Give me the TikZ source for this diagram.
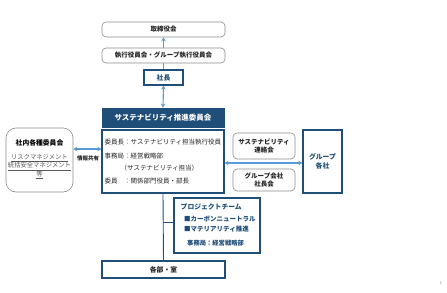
\documentclass[tikz,border=0pt]{standalone}
\usepackage{fontspec}
\setmainfont{Noto Sans CJK JP}
\usetikzlibrary{arrows.meta}
\definecolor{navy}{HTML}{1F4E79}
\definecolor{lblue}{HTML}{5B9BD5}
\definecolor{rgray}{HTML}{8C8C8C}
\definecolor{tgray}{HTML}{595959}
\definecolor{txt}{HTML}{262626}
\tikzset{
  fs/.style={font=\fontsize{6.5}{8}\selectfont},
  rbox/.style={draw=rgray, line width=0.6pt, rounded corners=4pt, fill=white, font=\fontsize{6.5}{8}\selectfont\bfseries, text=txt, align=center, inner sep=0pt},
  nbox/.style={draw=navy, line width=1.2pt, fill=white, fs, text=txt, align=center, inner sep=0pt},
  larr/.style={draw=lblue, line width=1.1pt, -{Stealth[length=4pt,width=4.5pt]}},
  darr/.style={draw=lblue, line width=1.1pt, {Stealth[length=4pt,width=4.5pt]}-{Stealth[length=4pt,width=4.5pt]}},
  nline/.style={draw=navy, line width=0.9pt},
  lt/.style={fs, text=txt, anchor=west, inner sep=0pt}
}
\begin{document}
\begin{tikzpicture}[x=1pt,y=-1pt]
\useasboundingbox (0,0) rectangle (447,292);
% top chain
\node[rbox, minimum width=123pt, minimum height=15pt] (board) at (163.5,29.5) {取締役会};
\node[rbox, minimum width=123pt, minimum height=15pt] (exec) at (163.5,55.5) {執行役員会・グループ執行役員会};
\node[nbox, minimum width=39pt, minimum height=15pt, font=\fontsize{6.8}{8}\selectfont\bfseries, text=navy] (pres) at (163.5,77.5) {社長};
% committee
\node[draw=navy, fill=navy, line width=0.8pt, minimum width=122pt, minimum height=19pt, inner sep=0pt, text=white, font=\fontsize{7.5}{9}\selectfont\bfseries] (head) at (163,117.5) {サステナビリティ推進委員会};
\node[nbox, minimum width=122pt, minimum height=63pt] (body) at (163,161.5) {};
\node[lt] (l1) at (104.5,142) {委員長：サステナビリティ担当執行役員};
\node[lt] (l2) at (104.5,156.5) {事務局：経営戦略部};
\node[lt] (l3) at (120.5,168) {（サステナビリティ担当）};
\node[lt] (l4) at (104.5,181) {委員　：関係部門役員・部長};
% left
\node[rbox, rounded corners=10pt, minimum width=67pt, minimum height=64pt] (inhouse) at (39.5,160) {};
\node[font=\fontsize{6.8}{8}\selectfont\bfseries, text=black, inner sep=0pt] (ihtitle) at (39.5,143) {社内各種委員会};
\node[font=\fontsize{6.3}{8.3}\selectfont, text=tgray, align=center, inner sep=0pt] (ihsub) at (39.5,166.5) {\underline{リスクマネジメント}\\\underline{統括安全マネジメント}\\\underline{等}};
\draw[darr] (inhouse.east |- 0,149) -- (body.west |- 0,149);
\node[font=\fontsize{5.5}{6}\selectfont\bfseries, text=txt, inner sep=0pt] (share) at (88,158.5) {情報共有};
% right
\node[rbox, minimum width=62pt, minimum height=26pt] (liaison) at (264,146) {サステナビリティ\\連絡会};
\node[rbox, minimum width=62pt, minimum height=22pt] (ceo) at (264,180) {グループ会社\\社長会};
\node[nbox, minimum width=39pt, minimum height=63pt, font=\fontsize{6.8}{9}\selectfont\bfseries, text=navy] (group) at (322.5,161.5) {グループ\\各社};
\draw[darr] (body.east |- 0,163) -- (group.west |- 0,163);
% project team
\node[nbox, minimum width=86pt, minimum height=55pt] (pt) at (217,225.5) {};
\node[lt, font=\fontsize{6.8}{8}\selectfont\bfseries, text=navy] (p1) at (180.5,207) {プロジェクトチーム};
\node[lt, font=\fontsize{6.5}{8}\selectfont\bfseries, text=navy] (p2) at (184,219) {■カーボンニュートラル};
\node[lt, font=\fontsize{6.5}{8}\selectfont\bfseries, text=navy] (p3) at (184,229.5) {■マテリアリティ推進};
\node[lt, font=\fontsize{6.3}{8}\selectfont\bfseries, text=navy] (p4) at (187,243) {事務局：経営戦略部};
% departments
\node[nbox, minimum width=123pt, minimum height=17pt, font=\fontsize{6.8}{8}\selectfont\bfseries] (dept) at (163.5,269.5) {各部・室};
% connectors
\draw[larr] (exec.north) -- (board.south);
\draw[draw=lblue, line width=1.1pt] (pres.north) -- (exec.south);
\draw[darr] (pres.south) -- (head.north);
\draw[nline] (body.south) -- (dept.north);
\coordinate (br) at (163,222);
\draw[nline] (br) -- (pt.west |- br);
% page number
\node[font=\fontsize{4}{5}\selectfont, text=gray, inner sep=0pt] (pg) at (441,283.5) {1};
\end{tikzpicture}
\end{document}
